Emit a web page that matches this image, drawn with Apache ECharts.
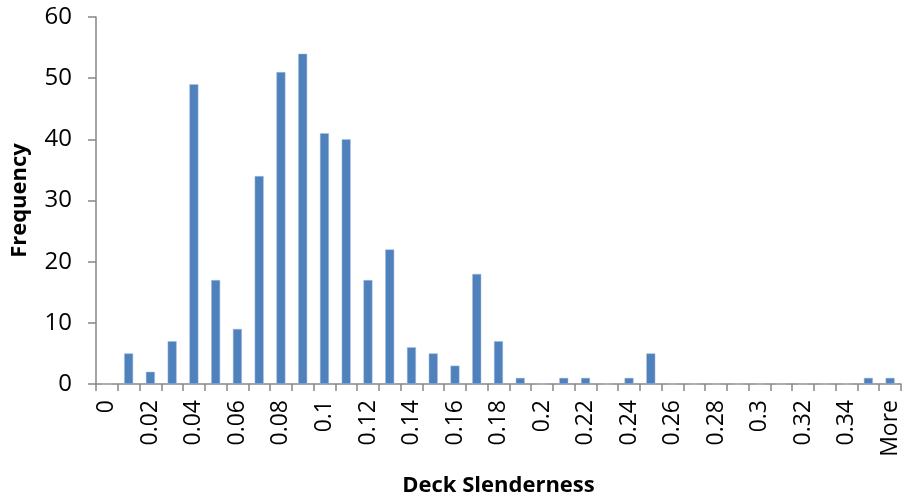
<!DOCTYPE html>
<html><head><meta charset="utf-8">
<script src="https://cdn.jsdelivr.net/npm/echarts@6/dist/echarts.min.js"></script>
<style>html,body{margin:0;padding:0;background:#fff}#c{width:902px;height:502px}</style>
</head><body><div id="c"></div>
<script>
const categories = ["0","0.01","0.02","0.03","0.04","0.05","0.06","0.07","0.08","0.09","0.1","0.11","0.12","0.13","0.14","0.15","0.16","0.17","0.18","0.19","0.2","0.21","0.22","0.23","0.24","0.25","0.26","0.27","0.28","0.29","0.3","0.31","0.32","0.33","0.34","0.35","More"];
const frequency = [0,5,2,7,49,17,9,34,51,54,41,40,17,22,6,5,3,18,7,1,0,1,1,0,1,5,0,0,0,0,0,0,0,0,0,1,1];
const yTicks = {min:0, max:60, interval:10};
const xTitle = "Deck Slenderness";
const yTitle = "Frequency";

const font = "'Open Sans', 'Noto Sans', sans-serif";
const chart = echarts.init(document.getElementById('c'), null, {renderer:'canvas'});
chart.setOption({
  animation:false,
  grid:{left:96, right:1, top:17, bottom:116, containLabel:false},
  xAxis:{
    type:'category', data:categories, boundaryGap:true,
    name:xTitle, nameLocation:'middle', nameGap:102,
    nameTextStyle:{fontFamily:font, fontWeight:'bold', fontSize:22, color:'#000', verticalAlign:'middle'},
    axisLine:{lineStyle:{color:'#868686', width:1.5}},
    axisTick:{show:true, interval:0, length:7, lineStyle:{color:'#868686', width:1.5}},
    axisLabel:{interval:1, rotate:90, fontFamily:font, fontSize:23, color:'#000', margin:16}
  },
  yAxis:{
    type:'value', min:yTicks.min, max:yTicks.max, interval:yTicks.interval,
    name:yTitle, nameLocation:'middle', nameGap:76,
    nameTextStyle:{fontFamily:font, fontWeight:'bold', fontSize:22, color:'#000', verticalAlign:'middle'},
    axisLine:{show:true, lineStyle:{color:'#868686', width:1.5}},
    axisTick:{show:true, length:8, lineStyle:{color:'#868686', width:1.5}},
    splitLine:{show:false},
    axisLabel:{fontFamily:font, fontSize:24, color:'#000', margin:24}
  },
  series:[{
    type:'bar', data:frequency, barWidth:9,
    itemStyle:{color:'#4F81BD', borderColor:'#a9c0e0', borderWidth:0.5}
  }]
});
</script></body></html>
